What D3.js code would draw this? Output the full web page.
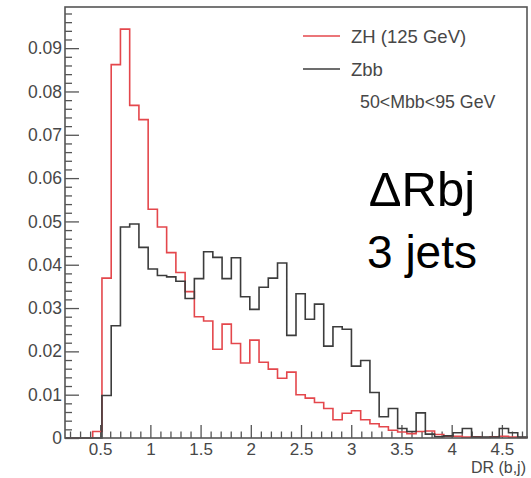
<!DOCTYPE html>
<html>
<head>
<meta charset="utf-8">
<script src="https://cdn.jsdelivr.net/npm/d3@7"></script>
<style>
  body { margin: 0; background: #fff; }
  svg { display: block; }
  text { font-family: "Liberation Sans", Arial, Helvetica, sans-serif; }
</style>
</head>
<body>
<svg id="chart" width="531" height="478"></svg>
<script>
// Histogram binning: 50 equal bins across the x range
const xRange = [0.15, 4.75];
const nBins = 50;
const yMax = 0.0995;

// Normalised ΔR(b,j) distributions, one value per bin
const zhValues = [
  0, 0, 0, 0.0015, 0.0369, 0.0862, 0.0944, 0.0768, 0.0735, 0.0528,
  0.0487, 0.0428, 0.0382, 0.0338, 0.0280, 0.0270, 0.0205, 0.0263, 0.0218, 0.0173,
  0.0226, 0.0175, 0.0159, 0.0138, 0.0152, 0.0100, 0.0092, 0.0082, 0.0068, 0.0042,
  0.0057, 0.0063, 0.0042, 0.0033, 0.0026, 0.0018, 0.0014, 0.0010, 0.0015, 0.0016,
  0.0008, 0.0004, 0.0004, 0.0002, 0.0003, 0.0001, 0.0003, 0.0004, 0.0002, 0.0001
];
const zbbValues = [
  0, 0, 0, 0, 0.0098, 0.0259, 0.0487, 0.0494, 0.0440, 0.0390,
  0.0375, 0.0372, 0.0362, 0.0322, 0.0368, 0.0430, 0.0417, 0.0368, 0.0416, 0.0326,
  0.0297, 0.0348, 0.0369, 0.0404, 0.0237, 0.0333, 0.0274, 0.0309, 0.0212, 0.0257,
  0.0251, 0.0166, 0.0179, 0.0105, 0.0049, 0.0068, 0.0022, 0.0015, 0.0058, 0.0009,
  0.0003, 0.0005, 0.0012, 0.0022, 0.0002, 0.0002, 0.0002, 0.0022, 0.0012, 0.0002
];

const yMajorTicks = [0, 0.01, 0.02, 0.03, 0.04, 0.05, 0.06, 0.07, 0.08, 0.09];
const yTickLabels = ["0", "0.01", "0.02", "0.03", "0.04", "0.05", "0.06", "0.07", "0.08", "0.09"];
const xMajorTicks = [0.5, 1, 1.5, 2, 2.5, 3, 3.5, 4, 4.5];
const xTickLabels = ["0.5", "1", "1.5", "2", "2.5", "3", "3.5", "4", "4.5"];

const seriesNames = ["ZH (125 GeV)", "Zbb"];
const seriesColors = ["#e4474c", "#3c3c3c"];
const cutLabel = "50<Mbb<95 GeV";
const titleLines = ["ΔRbj", "3 jets"];
const xTitle = "DR (b,j)";

const margin = { left: 65, top: 7, right: 4, bottom: 40 };
const W = 531, H = 478;
const pw = W - margin.left - margin.right;
const ph = H - margin.top - margin.bottom;

const svg = d3.select("#chart");
const g = svg.append("g").attr("transform", `translate(${margin.left},${margin.top})`);

const x = d3.scaleLinear().domain(xRange).range([0, pw]);
const y = d3.scaleLinear().domain([0, yMax]).range([ph, 0]);
const binWidth = (xRange[1] - xRange[0]) / nBins;

// Step outline of a histogram, closed down to the baseline at both ends
function stepPoints(values) {
  const pts = [[xRange[0], 0]];
  values.forEach((v, i) => {
    const x0 = xRange[0] + i * binWidth;
    pts.push([x0, v], [x0 + binWidth, v]);
  });
  pts.push([xRange[1], 0]);
  return pts;
}
const line = d3.line().x(d => x(d[0])).y(d => y(d[1]));

const axisColor = "#555";
const labelColor = "#474747";

// Minor ticks
const yMinor = d3.range(0, yMax, 0.002).filter(v => Math.abs(v / 0.01 - Math.round(v / 0.01)) > 1e-6);
const xMinor = d3.range(0.2, xRange[1], 0.1).filter(v => Math.abs(v / 0.5 - Math.round(v / 0.5)) > 1e-6);

g.append("g")
  .call(d3.axisLeft(y).tickValues(yMinor).tickSize(-7).tickFormat(""))
  .call(s => s.select(".domain").remove())
  .call(s => s.selectAll("line").attr("stroke", axisColor).attr("stroke-width", 1.3));

g.append("g")
  .attr("transform", `translate(0,${ph})`)
  .call(d3.axisBottom(x).tickValues(xMinor).tickSize(-6.5).tickFormat(""))
  .call(s => s.select(".domain").remove())
  .call(s => s.selectAll("line").attr("stroke", axisColor).attr("stroke-width", 1.3));

// Major ticks and labels
g.append("g")
  .call(d3.axisLeft(y).tickValues(yMajorTicks).tickSize(-14).tickPadding(3)
    .tickFormat((d, i) => yTickLabels[i]))
  .call(s => s.select(".domain").remove())
  .call(s => s.selectAll("line").attr("stroke", axisColor).attr("stroke-width", 1.3))
  .call(s => s.selectAll("text").attr("fill", labelColor).attr("font-size", 17.5)
    .attr("font-family", "Liberation Sans, Arial, sans-serif"));

g.append("g")
  .attr("transform", `translate(0,${ph})`)
  .call(d3.axisBottom(x).tickValues(xMajorTicks).tickSize(-13).tickPadding(5)
    .tickFormat((d, i) => xTickLabels[i]))
  .call(s => s.select(".domain").remove())
  .call(s => s.selectAll("line").attr("stroke", axisColor).attr("stroke-width", 1.3))
  .call(s => s.selectAll("text").attr("fill", labelColor).attr("font-size", 17)
    .attr("font-family", "Liberation Sans, Arial, sans-serif"));

// Histograms
[zhValues, zbbValues].forEach((vals, k) => {
  g.append("path")
    .attr("d", line(stepPoints(vals)))
    .attr("fill", "none")
    .attr("stroke", seriesColors[k])
    .attr("stroke-width", 1.6)
    .attr("stroke-linejoin", "miter");
});

// Frame
g.append("rect")
  .attr("width", pw).attr("height", ph)
  .attr("fill", "none").attr("stroke", axisColor).attr("stroke-width", 1.6);

// Legend
const legend = svg.append("g");
const legendRows = [36, 69];
seriesNames.forEach((name, k) => {
  legend.append("line")
    .attr("x1", 303).attr("x2", 340)
    .attr("y1", legendRows[k]).attr("y2", legendRows[k])
    .attr("stroke", seriesColors[k]).attr("stroke-width", 1.6);
  legend.append("text")
    .attr("x", 351).attr("y", legendRows[k] + 7)
    .attr("font-size", 18.5).attr("fill", labelColor)
    .text(name);
});
legend.append("text")
  .attr("x", 360).attr("y", 108)
  .attr("font-size", 17.8).attr("fill", labelColor)
  .text(cutLabel);

// Large annotation
svg.append("text")
  .attr("x", 422).attr("y", 206)
  .attr("text-anchor", "middle")
  .attr("font-size", 49).attr("fill", "#000")
  .text(titleLines[0]);
svg.append("text")
  .attr("x", 422).attr("y", 268)
  .attr("text-anchor", "middle")
  .attr("font-size", 46).attr("fill", "#000")
  .text(titleLines[1]);

// Axis title
svg.append("text")
  .attr("x", 526).attr("y", 473)
  .attr("text-anchor", "end")
  .attr("font-size", 16).attr("fill", labelColor)
  .text(xTitle);
</script>
</body>
</html>
